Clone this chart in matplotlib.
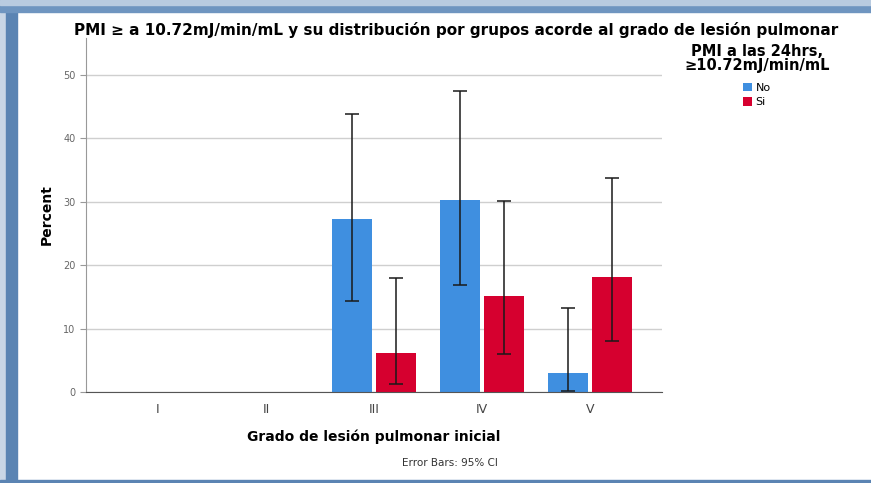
import matplotlib.pyplot as plt
import numpy as np
from matplotlib.patches import Rectangle

grades = ['I', 'II', 'III', 'IV', 'V']
pct_no = [0, 0, 27.3, 30.3, 3.0]
pct_si = [0, 0, 6.1, 15.2, 18.2]
# 95% CI bounds (lower, upper); None where the group is empty
ci_no = [None, None, (14.4, 43.8), (16.8, 47.4), (0.1, 13.3)]
ci_si = [None, None, (1.2, 18.0), (6.0, 30.1), (8.0, 33.7)]

blue = '#3f8fe0'
red = '#d6002f'

fig = plt.figure(figsize=(8.71, 4.83), dpi=100)
fig.patch.set_facecolor('white')

# window frame: shadowed blue edge on left, top and bottom
fig.patches.append(Rectangle((0, 0), 6/871, 1, transform=fig.transFigure,
                             color='#c9d6e6', zorder=0))
fig.patches.append(Rectangle((6/871, 0), 11/871, 1, transform=fig.transFigure,
                             color='#5b84b3', zorder=1))
fig.patches.append(Rectangle((0, 471/483), 1, 12/483, transform=fig.transFigure,
                             color='#6f95c0', zorder=1))
fig.patches.append(Rectangle((0, 478/483), 1, 5/483, transform=fig.transFigure,
                             color='#b9cbe0', zorder=1))
fig.patches.append(Rectangle((0, 0), 1, 3/483, transform=fig.transFigure,
                             color='#5b84b3', zorder=1))

ax = fig.add_axes([86/871, 91/483, 576/871, 354/483])

x = np.arange(len(grades))
w = 0.37
off = 0.204

ax.bar(x - off, pct_no, w, color=blue, label='No', zorder=2)
ax.bar(x + off, pct_si, w, color=red, label='Si', zorder=2)

for xs, vals, cis in [(x - off, pct_no, ci_no), (x + off, pct_si, ci_si)]:
    for xi, v, ci in zip(xs, vals, cis):
        if ci is None:
            continue
        lo, hi = ci
        ax.errorbar(xi, v, yerr=[[v - lo], [hi - v]], fmt='none',
                    ecolor='#1a1a1a', elinewidth=1.1, capsize=5,
                    capthick=1.1, zorder=3)

ax.set_xlim(-0.667, 4.667)
ax.set_ylim(0, 55.8)
ax.set_yticks([0, 10, 20, 30, 40, 50])
ax.set_xticks(x, labels=grades)
ax.tick_params(axis='y', labelsize=7, labelcolor='#666666', color='#999999',
               length=4, width=0.8)
ax.tick_params(axis='x', labelsize=9, labelcolor='#444444', length=0, pad=8)
ax.yaxis.grid(True, color='#cfcfcf', linewidth=1, zorder=0)
ax.set_axisbelow(True)
for s in ['top', 'right']:
    ax.spines[s].set_visible(False)
ax.spines['left'].set_color('#999999')
ax.spines['bottom'].set_color('#555555')

ax.set_ylabel('Percent', fontsize=10, fontweight='bold', labelpad=7)
ax.set_xlabel('Grado de lesión pulmonar inicial', fontsize=10,
              fontweight='bold', labelpad=10)

fig.text(456/871, 1 - 30/483,
         'PMI ≥ a 10.72mJ/min/mL y su distribución por grupos acorde al grado de lesión pulmonar',
         ha='center', va='center', fontsize=11, fontweight='bold')
fig.text(450/871, 1 - 463/483, 'Error Bars: 95% CI', ha='center', va='center',
         fontsize=7.5, color='#333333')

leg = fig.legend(loc='upper center', bbox_to_anchor=(757/871, 1 - 38/483),
                 title='PMI a las 24hrs,\n≥10.72mJ/min/mL', frameon=False,
                 fontsize=8, handlelength=0.8, handleheight=0.8,
                 handletextpad=0.3, labelspacing=0.4, borderpad=0)
leg.get_title().set_fontweight('bold')
leg.get_title().set_fontsize(10.5)
leg.get_title().set_multialignment('center')
leg.get_title().set_linespacing(0.95)
leg._legend_box.sep = 7

fig.savefig('out.png', dpi=100)
